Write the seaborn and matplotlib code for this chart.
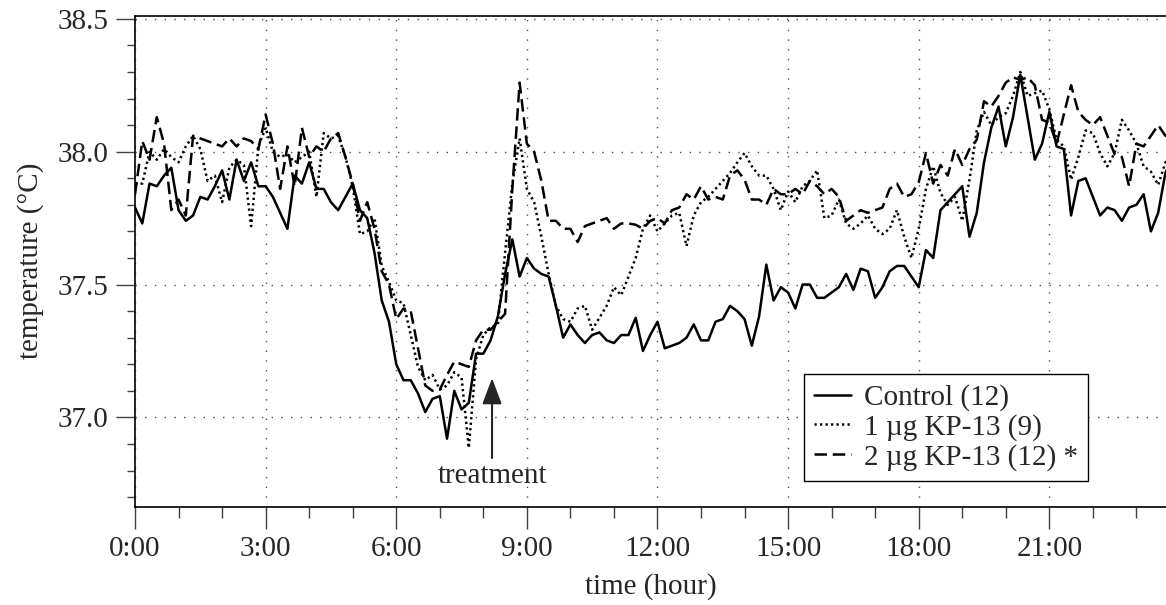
import numpy as np
import pandas as pd
import matplotlib
matplotlib.use("Agg")
import matplotlib.pyplot as plt
from matplotlib.ticker import MultipleLocator, FuncFormatter
import seaborn as sns

# === DATA (10-min samples) ===
minutes = np.arange(0, 1440, 10)

control = [
    37.79, 37.73, 37.88, 37.87, 37.91, 37.94, 37.78, 37.74, 37.76, 37.83, 37.82, 37.87,
    37.93, 37.82, 37.97, 37.89, 37.96, 37.87, 37.87, 37.83, 37.77, 37.71, 37.91, 37.88,
    37.96, 37.86, 37.86, 37.81, 37.78, 37.83, 37.88, 37.78, 37.75, 37.62, 37.44, 37.36,
    37.20, 37.14, 37.14, 37.09, 37.02, 37.07, 37.08, 36.92, 37.10, 37.03, 37.055, 37.24,
    37.24, 37.29, 37.38, 37.54, 37.67, 37.53, 37.60, 37.56, 37.54, 37.53, 37.42, 37.30,
    37.35, 37.31, 37.28, 37.31, 37.32, 37.29, 37.28, 37.31, 37.31, 37.375, 37.25, 37.31,
    37.36, 37.26, 37.27, 37.28, 37.30, 37.35, 37.29, 37.29, 37.36, 37.37, 37.42, 37.40,
    37.37, 37.27, 37.38, 37.575, 37.44, 37.49, 37.47, 37.41, 37.50, 37.50, 37.45, 37.45,
    37.47, 37.49, 37.54, 37.48, 37.56, 37.55, 37.45, 37.49, 37.55, 37.57, 37.57, 37.53,
    37.49, 37.63, 37.60, 37.78, 37.81, 37.84, 37.87, 37.68, 37.77, 37.96, 38.09, 38.17,
    38.02, 38.13, 38.29, 38.13, 37.97, 38.03, 38.15, 38.02, 38.01, 37.76, 37.89, 37.90,
    37.83, 37.76, 37.79, 37.78, 37.74, 37.79, 37.80, 37.84, 37.70, 37.77, 37.92, 37.98,
]

kp13_1ug = [
    37.88, 37.88, 38.00, 37.97, 38.01, 37.98, 37.96, 38.02, 38.06, 38.01, 37.89, 37.91,
    37.81, 37.94, 37.97, 37.95, 37.72, 38.02, 38.09, 38.00, 37.98, 37.99, 37.96, 37.98,
    38.00, 37.83, 38.07, 38.05, 38.06, 37.98, 37.87, 37.69, 37.70, 37.75, 37.57, 37.51,
    37.44, 37.43, 37.31, 37.19, 37.14, 37.16, 37.105, 37.12, 37.17, 37.15, 36.885, 37.22,
    37.31, 37.34, 37.35, 37.62, 37.88, 38.05, 37.86, 37.81, 37.68, 37.54, 37.42, 37.37,
    37.36, 37.41, 37.42, 37.33, 37.375, 37.42, 37.49, 37.46, 37.53, 37.60, 37.71, 37.76,
    37.70, 37.73, 37.76, 37.77, 37.645, 37.76, 37.81, 37.83, 37.86, 37.89, 37.92, 37.96,
    37.995, 37.945, 37.91, 37.91, 37.86, 37.78, 37.85, 37.81, 37.87, 37.89, 37.93, 37.75,
    37.76, 37.82, 37.73, 37.71, 37.73, 37.76, 37.71, 37.69, 37.71, 37.78, 37.68, 37.60,
    37.71, 37.86, 37.945, 37.845, 37.80, 37.83, 37.74, 37.895, 38.08, 38.15, 38.10, 38.13,
    38.145, 38.21, 38.30, 38.21, 38.22, 38.23, 38.16, 38.045, 38.02, 37.895, 37.98, 38.08,
    38.07, 37.995, 37.945, 37.995, 38.12, 38.08, 38.03, 37.945, 37.925, 37.875, 37.96, 37.98,
]

kp13_2ug = [
    37.84, 38.04, 37.97, 38.13, 38.03, 37.78, 37.82, 37.76, 38.06, 38.05, 38.04, 38.03,
    38.02, 38.05, 38.02, 38.05, 38.04, 38.01, 38.14, 38.03, 37.86, 38.02, 37.87, 38.09,
    37.98, 38.02, 38.00, 38.05, 38.07, 37.98, 37.88, 37.74, 37.81, 37.71, 37.55, 37.50,
    37.37, 37.41, 37.40, 37.26, 37.12, 37.10, 37.105, 37.16, 37.21, 37.20, 37.19, 37.29,
    37.33, 37.33, 37.36, 37.39, 37.86, 38.26, 38.03, 38.00, 37.89, 37.74, 37.74, 37.71,
    37.71, 37.66, 37.72, 37.73, 37.74, 37.75, 37.71, 37.73, 37.73, 37.725, 37.71, 37.74,
    37.75, 37.73, 37.78, 37.79, 37.84, 37.82, 37.87, 37.82, 37.83, 37.82, 37.91, 37.93,
    37.895, 37.82, 37.82, 37.80, 37.86, 37.84, 37.84, 37.86, 37.84, 37.89, 37.87, 37.84,
    37.86, 37.83, 37.74, 37.76, 37.78, 37.77, 37.78, 37.79, 37.86, 37.88, 37.83, 37.84,
    37.885, 37.995, 37.88, 37.95, 37.91, 38.01, 37.95, 38.01, 38.045, 38.19, 38.17, 38.21,
    38.26, 38.28, 38.27, 38.28, 38.25, 38.12, 38.11, 38.03, 38.14, 38.25, 38.15, 38.12,
    38.10, 38.13, 38.06, 37.99, 37.98, 37.87, 38.03, 38.02, 38.06, 38.10, 38.06, 38.05,
]

groups = ["Control (12)", "1 \u00b5g KP-13 (9)", "2 \u00b5g KP-13 (12) *"]
series = [control, kp13_1ug, kp13_2ug]

treatment_hour = 8.2
treatment_tip = 37.148
treatment_tail = 36.847
treatment_text_y = 36.755

# === BUILD TABLE ===
df = pd.concat(
    [pd.DataFrame({"hour": minutes / 60.0, "temp": vals, "group": g}) for g, vals in zip(groups, series)],
    ignore_index=True,
)

# === PLOT ===
sns.set_style("ticks")
plt.rcParams["font.family"] = ["Liberation Serif", "DejaVu Serif"]
plt.rcParams["font.size"] = 21

fig = plt.figure(figsize=(11.66, 6.05), dpi=100)
ax = fig.add_axes([0.1158, 0.1625, 0.8842, 0.8116])

dash_map = {groups[0]: "", groups[1]: (0.9, 1.3), groups[2]: (5, 2.3)}
sns.lineplot(data=df, x="hour", y="temp", style="group", style_order=groups,
             dashes=dash_map, color="black", linewidth=1.8, estimator=None, ax=ax)

ax.set_xlim(0, 23.68)
ax.set_ylim(36.664, 38.512)

ax.xaxis.set_major_locator(MultipleLocator(3))
ax.xaxis.set_minor_locator(MultipleLocator(1))
ax.xaxis.set_major_formatter(FuncFormatter(lambda v, p: f"{int(round(v))}:00"))
ax.yaxis.set_major_locator(MultipleLocator(0.5))
ax.yaxis.set_minor_locator(MultipleLocator(0.1))
ax.yaxis.set_major_formatter(FuncFormatter(lambda v, p: f"{v:.1f}"))

ax.tick_params(axis="x", which="major", direction="out", length=16, width=1.0, pad=5, labelsize=21, color="0.25")
ax.tick_params(axis="x", which="minor", direction="out", length=8, width=1.0, color="0.25")
ax.tick_params(axis="y", which="major", direction="out", length=14, width=1.0, pad=5, labelsize=21, color="0.25")
ax.tick_params(axis="y", which="minor", direction="out", length=6, width=1.0, color="0.25")

ax.grid(True, which="major", color="0.3", linestyle=(0, (1, 6)), linewidth=1.0)
ax.spines["right"].set_visible(False)
for s in ["left", "bottom", "top"]:
    ax.spines[s].set_linewidth(1.2)
    ax.spines[s].set_color("black")

ax.set_xlabel("time (hour)", fontsize=21, labelpad=8)
ax.set_ylabel("temperature (\u00b0C)", fontsize=21, labelpad=10)

# treatment arrow
ax.annotate("", xy=(treatment_hour, treatment_tip), xytext=(treatment_hour, treatment_tail),
            arrowprops=dict(arrowstyle="-|>,head_length=0.8,head_width=0.3", color="0.15",
                            lw=1.5, mutation_scale=20, shrinkA=0, shrinkB=0))
ax.text(treatment_hour, treatment_text_y, "treatment", ha="center", va="baseline", fontsize=21)

handles, labels = ax.get_legend_handles_labels()
leg = ax.legend(handles, labels, loc="upper left", bbox_to_anchor=(804 / 1166, 1 - 374 / 605),
                bbox_transform=fig.transFigure, borderaxespad=0, fontsize=21, frameon=True,
                fancybox=False, edgecolor="black", framealpha=1, handlelength=1.25,
                handletextpad=0.45, labelspacing=0.1, borderpad=0.35)
leg.get_frame().set_linewidth(1.0)

fig.savefig("out.png", dpi=100)
